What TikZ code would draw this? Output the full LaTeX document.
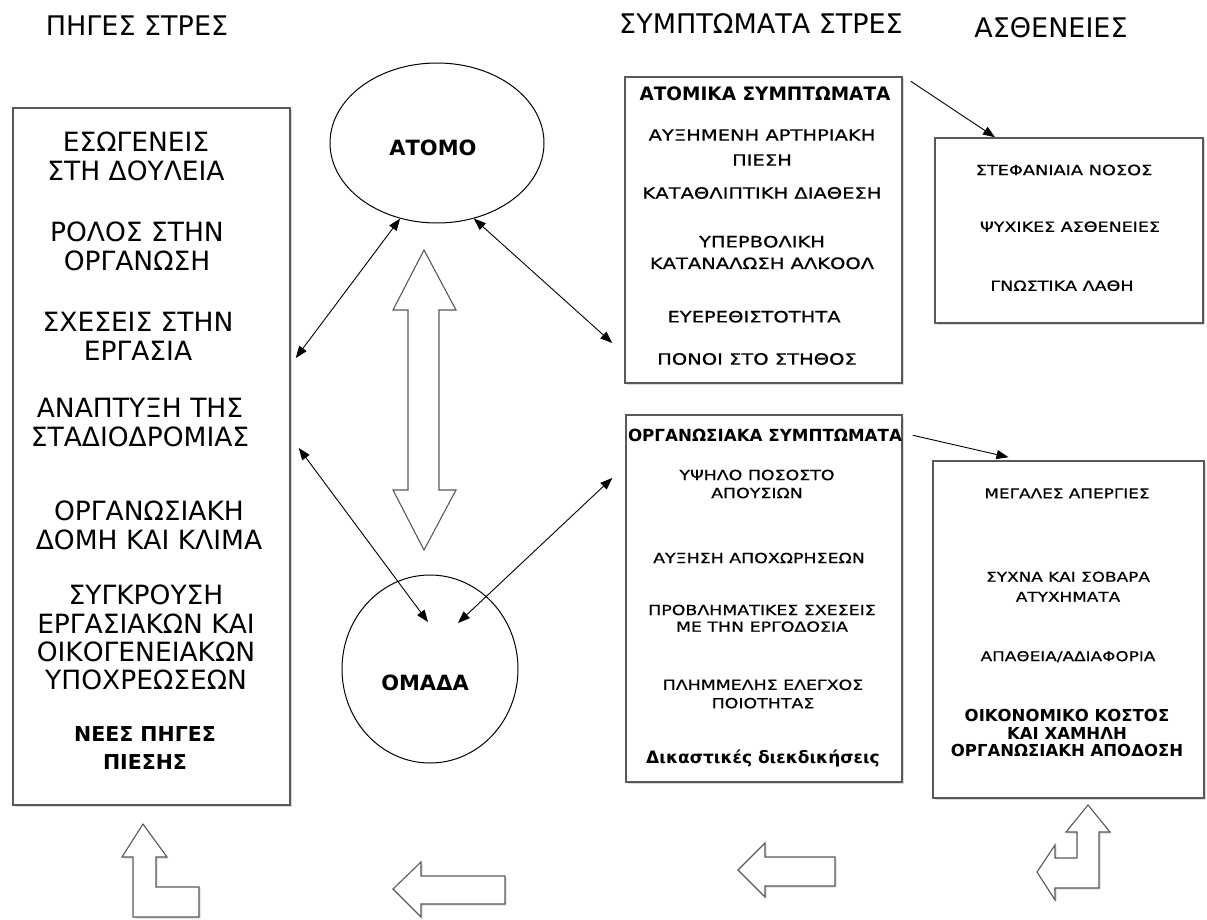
\documentclass[tikz,border=0pt]{standalone}
\usepackage{fontspec}
\setmainfont{DejaVu Sans}
\newfontfamily\smf[FakeStretch=1.25,FakeBold=0.6]{DejaVu Sans}
\usetikzlibrary{shapes.geometric,arrows.meta,shadows,calc}
\begin{document}
\begin{tikzpicture}[x=1pt,y=-1pt,
  boxs/.style={rectangle, draw=gray!70!black, line width=1.5pt, fill=white, inner sep=0pt,
    drop shadow={shadow xshift=1.5pt, shadow yshift=-1.5pt, opacity=0.3}},
  ttl/.style={inner sep=0pt, font=\fontsize{27}{30}\selectfont},
  lt/.style={inner sep=0pt, align=center, font=\fontsize{26.5}{29}\selectfont},
  txt/.style={inner sep=0pt, align=center},
  tarr/.style={line width=0.9pt, arrows={Triangle[length=12pt,width=9pt]-Triangle[length=12pt,width=9pt]}},
  oarr/.style={line width=0.9pt, arrows={-Triangle[length=12pt,width=9pt]}},
  barr/.style={draw=gray!70!black, line width=1.1pt, fill=white, line join=miter},
  bsh/.style={barr, drop shadow={shadow xshift=1.5pt, shadow yshift=-1.5pt, opacity=0.3}}
]
\useasboundingbox (0,0) rectangle (1207,920);

% titles
\node[ttl] (t1) at (137,26) {ΠΗΓΕΣ ΣΤΡΕΣ};
\node[ttl] (t2) at (761,24) {ΣΥΜΠΤΩΜΑΤΑ ΣΤΡΕΣ};
\node[ttl] (t3) at (1051,27.5) {ΑΣΘΕΝΕΙΕΣ};

% boxes
\node[boxs, minimum width=277pt, minimum height=697pt] (src) at (151.5,456.5) {};
\node[boxs, minimum width=277pt, minimum height=306pt] (atom) at (763.5,230) {};
\node[boxs, minimum width=268pt, minimum height=185pt] (as1) at (1069,230.5) {};
\node[boxs, minimum width=276pt, minimum height=367pt] (organ) at (764,598.5) {};
\node[boxs, minimum width=271pt, minimum height=337pt] (as2) at (1068.5,629.5) {};

% ellipse and circle
\node[ellipse, draw, line width=1pt, minimum width=214pt, minimum height=160pt, inner sep=0pt] (atomo) at (437,143) {};
\node[ellipse, draw, line width=1pt, minimum width=176pt, minimum height=188pt, inner sep=0pt] (omada) at (430,669) {};
\node[txt, font=\fontsize{21}{24}\selectfont\bfseries] (atomot) at (433,148) {ΑΤΟΜΟ};
\node[txt, font=\fontsize{21}{24}\selectfont\bfseries] (omadat) at (425,683) {ΟΜΑΔΑ};

% left box texts
\node[lt] (s1) at (136,156.7) {ΕΣΩΓΕΝΕΙΣ\\ΣΤΗ ΔΟΥΛΕΙΑ};
\node[lt] (s2) at (137,246.7) {ΡΟΛΟΣ ΣΤΗΝ\\ΟΡΓΑΝΩΣΗ};
\node[lt] (s3) at (138,336.3) {ΣΧΕΣΕΙΣ ΣΤΗΝ\\ΕΡΓΑΣΙΑ};
\node[lt] (s4) at (140,422.3) {ΑΝΑΠΤΥΞΗ ΤΗΣ\\ΣΤΑΔΙΟΔΡΟΜΙΑΣ};
\node[lt] (s5) at (149,525.8) {ΟΡΓΑΝΩΣΙΑΚΗ\\ΔΟΜΗ ΚΑΙ ΚΛΙΜΑ};
\node[lt, font=\fontsize{26.5}{28.3}\selectfont] (s6) at (146,637.5) {ΣΥΓΚΡΟΥΣΗ\\ΕΡΓΑΣΙΑΚΩΝ ΚΑΙ\\ΟΙΚΟΓΕΝΕΙΑΚΩΝ\\ΥΠΟΧΡΕΩΣΕΩΝ};
\node[txt, font=\fontsize{20.5}{27.7}\selectfont\bfseries] (s7) at (145,748) {ΝΕΕΣ ΠΗΓΕΣ\\ΠΙΕΣΗΣ};

% atomika symptomata
\node[txt, font=\fontsize{18.5}{22}\selectfont\bfseries] (a0) at (765,94) {ΑΤΟΜΙΚΑ ΣΥΜΠΤΩΜΑΤΑ};
\node[txt, font=\smf\fontsize{15.6}{25}\selectfont] (a1) at (762,147.5) {ΑΥΞΗΜΕΝΗ ΑΡΤΗΡΙΑΚΗ\\ΠΙΕΣΗ};
\node[txt, font=\smf\fontsize{15.6}{22}\selectfont] (a2) at (762,193) {ΚΑΤΑΘΛΙΠΤΙΚΗ ΔΙΑΘΕΣΗ};
\node[txt, font=\smf\fontsize{15.6}{21.6}\selectfont] (a3) at (762,252.5) {ΥΠΕΡΒΟΛΙΚΗ\\ΚΑΤΑΝΑΛΩΣΗ ΑΛΚΟΟΛ};
\node[txt, font=\smf\fontsize{15.6}{22}\selectfont] (a4) at (754,316.7) {ΕΥΕΡΕΘΙΣΤΟΤΗΤΑ};
\node[txt, font=\smf\fontsize{15.6}{22}\selectfont] (a5) at (757,359) {ΠΟΝΟΙ ΣΤΟ ΣΤΗΘΟΣ};

% astheneies 1
\node[txt, font=\smf\fontsize{14.2}{20}\selectfont] (b1) at (1064,170) {ΣΤΕΦΑΝΙΑΙΑ ΝΟΣΟΣ};
\node[txt, font=\smf\fontsize{14}{20}\selectfont] (b2) at (1070,226.7) {ΨΥΧΙΚΕΣ ΑΣΘΕΝΕΙΕΣ};
\node[txt, font=\smf\fontsize{14}{20}\selectfont] (b3) at (1062,285.7) {ΓΝΩΣΤΙΚΑ ΛΑΘΗ};

% organosiaka symptomata
\node[txt, font=\fontsize{16.7}{20}\selectfont\bfseries] (o0) at (765,435) {ΟΡΓΑΝΩΣΙΑΚΑ ΣΥΜΠΤΩΜΑΤΑ};
\node[txt, font=\smf\fontsize{13.9}{18}\selectfont] (o1) at (757,484) {ΥΨΗΛΟ ΠΟΣΟΣΤΟ\\ΑΠΟΥΣΙΩΝ};
\node[txt, font=\smf\fontsize{13.9}{18}\selectfont] (o2) at (759,558) {ΑΥΞΗΣΗ ΑΠΟΧΩΡΗΣΕΩΝ};
\node[txt, font=\smf\fontsize{13.9}{16.7}\selectfont] (o3) at (762,618.3) {ΠΡΟΒΛΗΜΑΤΙΚΕΣ ΣΧΕΣΕΙΣ\\ΜΕ ΤΗΝ ΕΡΓΟΔΟΣΙΑ};
\node[txt, font=\smf\fontsize{13.9}{18.3}\selectfont] (o4) at (763,694) {ΠΛΗΜΜΕΛΗΣ ΕΛΕΓΧΟΣ\\ΠΟΙΟΤΗΤΑΣ};
\node[txt, font=\fontsize{17}{20}\selectfont\bfseries] (o5) at (763,758) {Δικαστικές διεκδικήσεις};

% astheneies 2
\node[txt, font=\smf\fontsize{13.5}{20}\selectfont] (c1) at (1067,493.3) {ΜΕΓΑΛΕΣ ΑΠΕΡΓΙΕΣ};
\node[txt, font=\smf\fontsize{13.5}{20}\selectfont] (c2) at (1068,586.7) {ΣΥΧΝΑ ΚΑΙ ΣΟΒΑΡΑ\\ΑΤΥΧΗΜΑΤΑ};
\node[txt, font=\smf\fontsize{13.5}{20}\selectfont] (c3) at (1068,656.7) {ΑΠΑΘΕΙΑ/ΑΔΙΑΦΟΡΙΑ};
\node[txt, font=\fontsize{16.5}{17.9}\selectfont\bfseries] (c4) at (1067,733) {ΟΙΚΟΝΟΜΙΚΟ ΚΟΣΤΟΣ\\ΚΑΙ ΧΑΜΗΛΗ\\ΟΡΓΑΝΩΣΙΑΚΗ ΑΠΟΔΟΣΗ};

% vertical double block arrow
\draw[barr] (424,250) -- (456,310) -- (439,310) -- (439,490) -- (456,490) -- (424,550)
  -- (393,490) -- (408,490) -- (408,310) -- (393,310) -- cycle;

% thin connectors
\draw[tarr] (atomo.244) -- ($(src.east)+(5,-98.5)$);
\draw[tarr] (atomo.296) -- ($(atom.west)+(-12,113)$);
\draw[tarr] ($(src.east)+(8,-8.5)$) -- ($(omada.center)+(-2,-47)$);
\draw[tarr] ($(organ.west)+(-13,-120.5)$) -- ($(omada.center)+(28,-46)$);
\draw[oarr] ($(atom.north east)+(8,5)$) -- ($(as1.north)+(-74,0)$);
\draw[oarr] ($(organ.north east)+(10,21)$) -- ($(as2.north)+(-60,-3)$);

% bottom block arrows
\draw[bsh] (143,824) -- (167,857) -- (156,857) -- (156,887) -- (199,887) -- (199,917)
  -- (133,917) -- (133,857) -- (122,857) -- cycle;
\draw[bsh] (393,889) -- (421,862) -- (421,876) -- (505,876) -- (505,904) -- (421,904)
  -- (421,917) -- cycle;
\draw[bsh] (738,870) -- (765,843) -- (765,857) -- (835,857) -- (835,886) -- (765,886)
  -- (765,897) -- cycle;
\draw[bsh] (1088,805) -- (1110,832) -- (1099,832) -- (1099,888) -- (1055,888) -- (1055,900)
  -- (1037,872) -- (1055,845) -- (1055,858) -- (1077,858) -- (1077,832) -- (1066,832) -- cycle;
\end{tikzpicture}
\end{document}
